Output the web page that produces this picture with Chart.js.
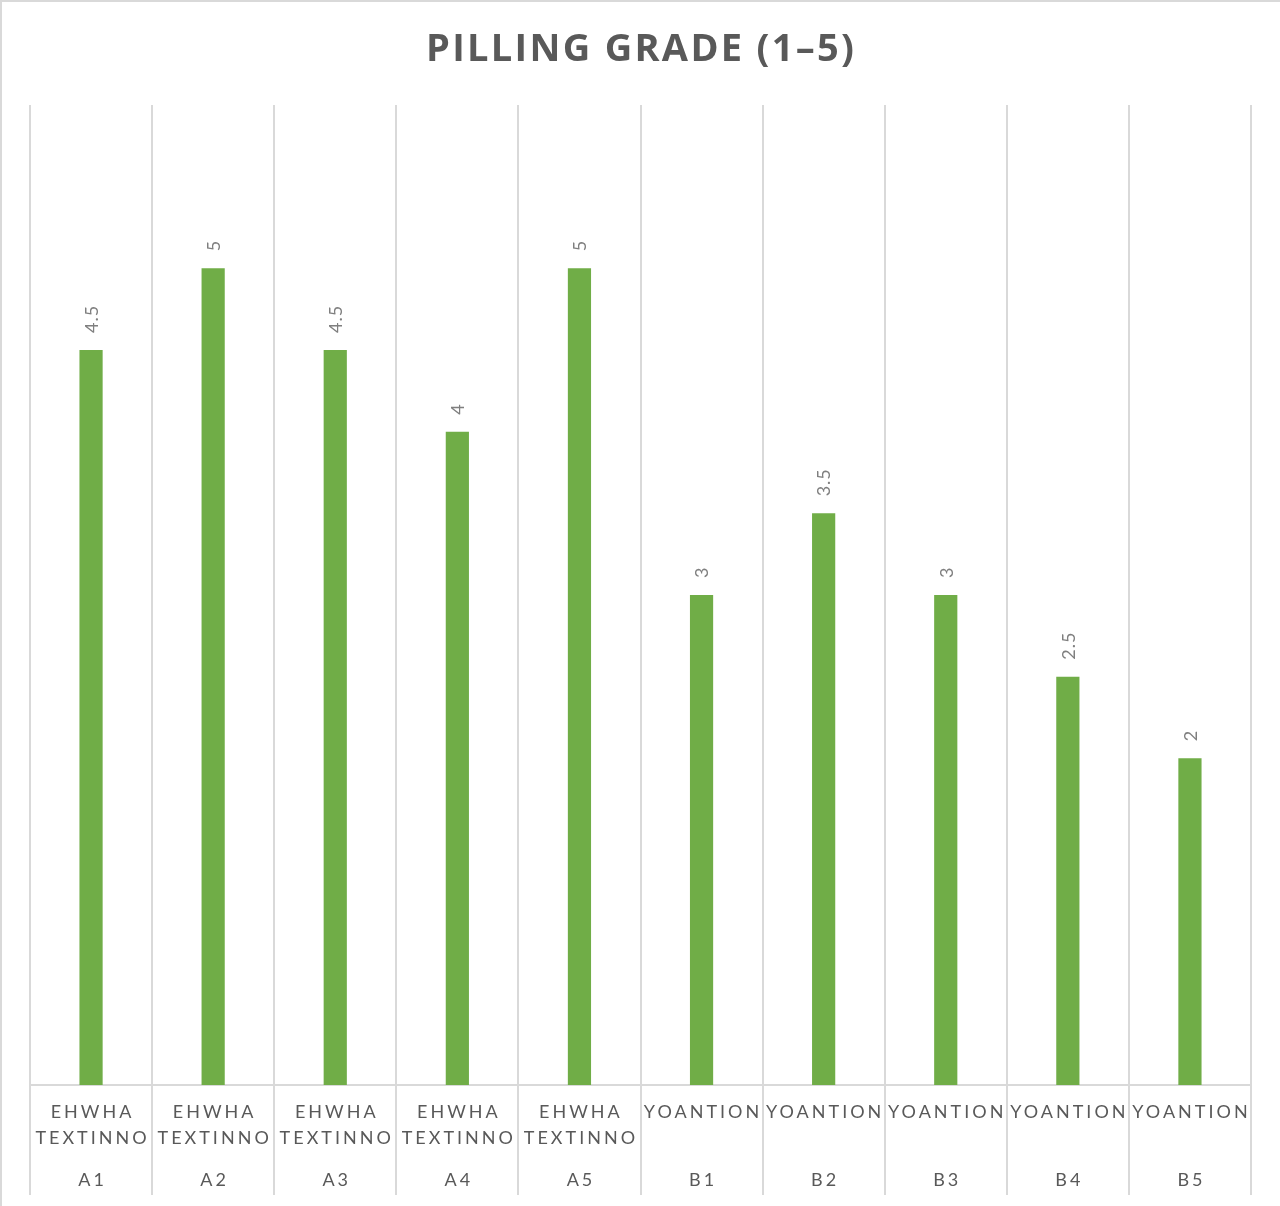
<!DOCTYPE html>
<html>
<head>
<meta charset="utf-8">
<script src="https://cdn.jsdelivr.net/npm/chart.js@4.4.1/dist/chart.umd.min.js"></script>
<style>
  html, body { margin: 0; padding: 0; background: #fff; }
  canvas { display: block; }
</style>
</head>
<body>
<canvas id="bar-chart" width="1280" height="1206"></canvas>
<script>
// values
var groups = ["EHWHA TEXTINNO", "EHWHA TEXTINNO", "EHWHA TEXTINNO", "EHWHA TEXTINNO", "EHWHA TEXTINNO",
              "YOANTION", "YOANTION", "YOANTION", "YOANTION", "YOANTION"];
var samples = ["A1", "A2", "A3", "A4", "A5", "B1", "B2", "B3", "B4", "B5"];
var grades = [4.5, 5, 4.5, 4, 5, 3, 3.5, 3, 2.5, 2];
var chartTitle = "PILLING GRADE (1\u20135)";

// text with letter spacing, centred on x
function spacedText(ctx, txt, x, y, spacing) {
    ctx.letterSpacing = spacing + "px";
    ctx.textAlign = "center";
    ctx.fillText(txt, x + spacing / 2, y);
    ctx.letterSpacing = "0px";
}

var textPlugin = {
    id: "textPlugin",
    afterDraw: function (chart) {
        var ctx = chart.ctx;
        var xs = chart.scales.x;
        ctx.save();

        // outer frame (top and left edges are visible)
        ctx.strokeStyle = "#d9d9d9";
        ctx.lineWidth = 2;
        ctx.beginPath();
        ctx.moveTo(1, 1206);
        ctx.lineTo(1, 1);
        ctx.lineTo(1280, 1);
        ctx.stroke();

        // title
        ctx.fillStyle = "#595959";
        ctx.font = "bold 38px 'Open Sans'";
        ctx.textBaseline = "middle";
        spacedText(ctx, chartTitle, 640, 50, 2.3);

        // category labels
        ctx.font = "18px Lato";
        ctx.fillStyle = "#595959";
        for (let i = 0; i < samples.length; i++) {
            let cx = xs.getPixelForValue(i);
            let words = groups[i].split(" ");
            for (let j = 0; j < words.length; j++) {
                spacedText(ctx, words[j], cx, 1112 + j * 26, 3);
            }
            spacedText(ctx, samples[i], cx, 1180, 3);
        }

        // value labels, rotated
        let meta = chart.getDatasetMeta(0);
        ctx.font = "18px Lato";
        ctx.fillStyle = "#7f7f7f";
        for (let i = 0; i < meta.data.length; i++) {
            let bar = meta.data[i];
            ctx.save();
            ctx.translate(bar.x + 1, bar.y - 17);
            ctx.rotate(-Math.PI / 2);
            ctx.textAlign = "left";
            ctx.textBaseline = "middle";
            ctx.letterSpacing = "1px";
            ctx.fillText(String(grades[i]), 0, 0);
            ctx.restore();
        }
        ctx.restore();
    }
};

new Chart(document.getElementById("bar-chart"), {
    type: "bar",
    data: {
        labels: samples,
        datasets: [
            {
                data: grades,
                backgroundColor: "#70AD47",
                barPercentage: 0.19,
                categoryPercentage: 1
            }
        ]
    },
    options: {
        responsive: false,
        animation: false,
        layout: {
            padding: { top: 105, left: 30, right: 29, bottom: 11 }
        },
        plugins: {
            legend: { display: false },
            title: { display: false },
            tooltip: { enabled: false }
        },
        scales: {
            x: {
                offset: true,
                grid: {
                    offset: true,
                    color: "#d9d9d9",
                    lineWidth: 2,
                    drawTicks: true,
                    tickLength: 110
                },
                border: { color: "#d9d9d9", width: 2 },
                ticks: { display: false }
            },
            y: {
                display: false,
                min: 0,
                max: 6
            }
        }
    },
    plugins: [textPlugin]
});
</script>
</body>
</html>
